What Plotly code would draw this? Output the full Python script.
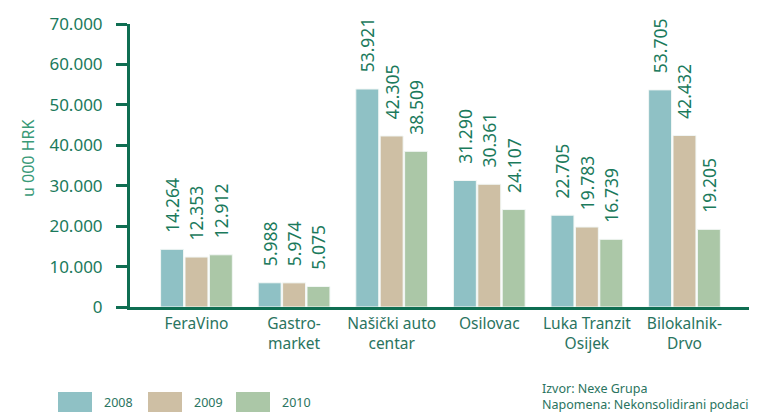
import plotly.graph_objects as go

categories = ["FeraVino", "Gastro-<br>market", "Našički auto<br>centar", "Osilovac", "Luka Tranzit<br>Osijek", "Bilokalnik-<br>Drvo"]
years = ["2008", "2009", "2010"]
v2008 = [14264, 5988, 53921, 31290, 22705, 53705]
v2009 = [12353, 5974, 42305, 30361, 19783, 42432]
v2010 = [12912, 5075, 38509, 24107, 16739, 19205]
colors = ["#8FC1C5", "#CEBFA4", "#ABC7A7"]
y_ticks = [0, 10000, 20000, 30000, 40000, 50000, 60000, 70000]
y_ticklabels = ["0", "10.000", "20.000", "30.000", "40.000", "50.000", "60.000", "70.000"]

GREEN = "#0F6E52"
TEXT = "#1B7A5C"
FONT = "Noto Sans"

# page body adds an 8px offset; the figure is sized to compensate
OFF = 8
W, H = 757 - OFF, 414 - OFF

def px(X):
    return (X - 130) / 627

def py(Y):
    return (307 - Y) / 283

fig = go.Figure()
x_idx = list(range(len(categories)))
PAD = "\u00a0\u00a0\u00a0"
for name, vals, col in zip(years, [v2008, v2009, v2010], colors):
    fig.add_trace(go.Bar(
        x=x_idx, y=vals, name=name,
        marker=dict(color=col, line=dict(color="#F2F7F5", width=1)),
        text=[PAD + f"{v:,}".replace(",", ".") for v in vals],
        textposition="outside", textangle=-90, constraintext="none",
        textfont=dict(family=FONT, size=17.5, color=TEXT),
        cliponaxis=False, showlegend=False,
    ))

fig.update_layout(
    width=W, height=H,
    margin=dict(l=130 - OFF, r=0, t=24 - OFF, b=H - (307 - OFF), autoexpand=False),
    paper_bgcolor="white", plot_bgcolor="white",
    barmode="group", bargap=0.25, bargroupgap=0.06,
    font=dict(family=FONT, color=TEXT),
    xaxis=dict(
        tickmode="array", tickvals=x_idx, ticktext=categories,
        range=[-0.681, 5.743],
        showline=True, linecolor=GREEN, linewidth=3,
        ticks="", showgrid=False, zeroline=False,
        tickfont=dict(family=FONT, size=15.5, color="#2A7460"),
    ),
    yaxis=dict(
        range=[0, 70000],
        tickmode="array", tickvals=y_ticks, ticktext=y_ticklabels,
        showline=True, linecolor=GREEN, linewidth=3,
        ticks="outside", ticklen=11, tickwidth=3, tickcolor=GREEN,
        ticklabelstandoff=10,
        showgrid=False, zeroline=False,
        tickfont=dict(family=FONT, size=17, color=TEXT),
    ),
)

fig.add_annotation(xref="paper", yref="paper", x=px(28), y=py(159),
                   text="u 000 HRK", textangle=-90, showarrow=False,
                   xanchor="center", yanchor="middle",
                   font=dict(family=FONT, size=16, color="#3A9A78"))

# legend built as swatches + labels
sw_x = [58, 148, 236]
for i, (name, col) in enumerate(zip(years, colors)):
    fig.add_shape(type="rect", xref="paper", yref="paper",
                  x0=px(sw_x[i]), x1=px(sw_x[i] + 34),
                  y0=py(412), y1=py(392),
                  fillcolor=col, line=dict(width=0))
    fig.add_annotation(xref="paper", yref="paper",
                       x=px(sw_x[i] + 44), y=py(402),
                       text=name, showarrow=False, xanchor="left", yanchor="middle",
                       font=dict(family=FONT, size=12.5, color="#2A7460"))

fig.add_annotation(xref="paper", yref="paper", x=px(540), y=py(396),
                   text="Izvor: Nexe Grupa<br>Napomena: Nekonsolidirani podaci",
                   showarrow=False, xanchor="left", yanchor="middle", align="left",
                   font=dict(family=FONT, size=12.5, color="#2A7460"))

fig.write_html("out.html")
